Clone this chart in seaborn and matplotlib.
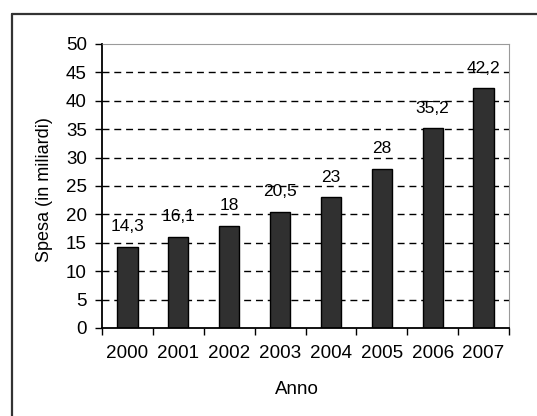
import matplotlib
matplotlib.use("Agg")
import matplotlib.pyplot as plt
import seaborn as sns
import pandas as pd
import numpy as np
from matplotlib.lines import Line2D
from matplotlib.ticker import FixedLocator, NullFormatter

anni = ["2000", "2001", "2002", "2003", "2004", "2005", "2006", "2007"]
spesa = [14.3, 16.1, 18, 20.5, 23, 28, 35.2, 42.2]
etichette = ["14,3", "16,1", "18", "20,5", "23", "28", "35,2", "42,2"]
y_ticks = [0, 5, 10, 15, 20, 25, 30, 35, 40, 45, 50]

sns.set_style("white")
plt.rcParams['font.family'] = ['Liberation Sans', 'DejaVu Sans']

df = pd.DataFrame({"Anno": anni, "Spesa": spesa})

fig = plt.figure(figsize=(5.37, 4.16), dpi=100)
ax = fig.add_axes([102/537, 1 - 328/416, (509-102)/537, (328-44)/416])

sns.barplot(data=df, x="Anno", y="Spesa", ax=ax, color="#303030",
            edgecolor="black", linewidth=1.0, width=0.4, saturation=1)

ax.set_ylim(0, 50)
ax.set_xlim(-0.5, len(anni) - 0.5)
ax.set_yticks(y_ticks)
ax.set_yticklabels([str(t) for t in y_ticks])

# gridlines
for t in y_ticks[1:-1]:
    ax.axhline(t, color="black", lw=1.0, linestyle=(0, (5, 3.5)), zorder=0.5)
ax.set_axisbelow(False)
for p in ax.patches:
    p.set_zorder(2)

# spines
for s in ["left", "bottom"]:
    ax.spines[s].set_color("black")
    ax.spines[s].set_linewidth(1.3)
for s in ["top", "right"]:
    ax.spines[s].set_color("#9a9a9a")
    ax.spines[s].set_linewidth(0.8)

ax.tick_params(axis="y", which="major", direction="out", length=5, width=1,
               color="black", left=True, labelsize=13.5, pad=6, labelcolor="black")
ax.tick_params(axis="x", which="major", length=0, labelsize=13.6, pad=12, labelcolor="black")
ax.xaxis.set_minor_locator(FixedLocator(np.arange(-0.5, len(anni), 1.0)))
ax.xaxis.set_minor_formatter(NullFormatter())
ax.tick_params(axis="x", which="minor", direction="out", length=5, width=1,
               color="black", bottom=True)

for i, (v, lab) in enumerate(zip(spesa, etichette)):
    ax.annotate(lab, (i, v), xytext=(0, 9), textcoords="offset points",
                ha="center", va="bottom", fontsize=12.5, color="black")

ax.set_xlabel("Anno", fontsize=13.5, color="black")
ax.xaxis.set_label_coords((297-102)/407, -(381-328)/284)
ax.set_ylabel("Spesa (in miliardi)", fontsize=13, color="black")
ax.yaxis.set_label_coords(-(102-53)/407, (328-190)/284)

# outer frame (top and left visible)
fig.add_artist(Line2D([12/537, 1.01], [1 - 14/416, 1 - 14/416], transform=fig.transFigure,
                      color="#333333", lw=1.6))
fig.add_artist(Line2D([12/537, 12/537], [1 - 14/416, -0.01], transform=fig.transFigure,
                      color="#333333", lw=1.6))

fig.savefig("out.png", dpi=100)
